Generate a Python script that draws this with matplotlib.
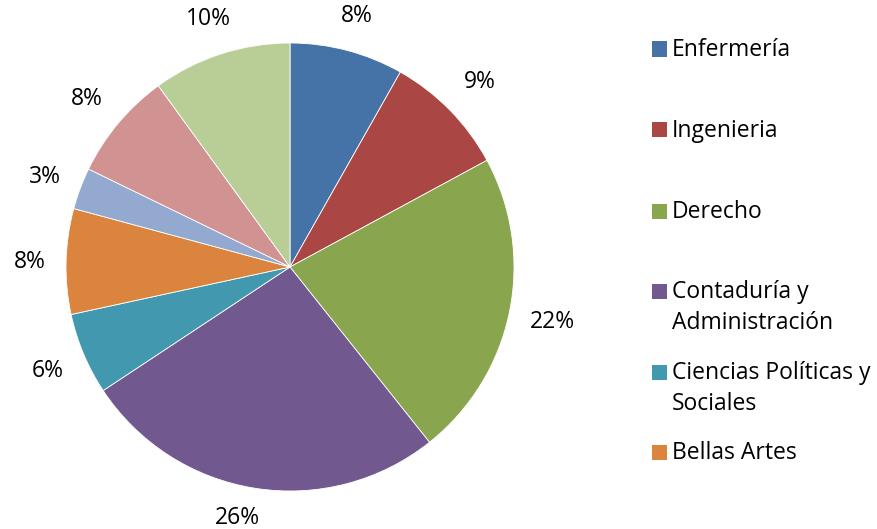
import matplotlib
matplotlib.use("Agg")
import numpy as np
import matplotlib.pyplot as plt
from matplotlib.patches import Rectangle

plt.rcParams['font.family'] = ['Open Sans', 'DejaVu Sans']

categories = ["Enfermería", "Ingenieria", "Derecho", "Contaduría y\nAdministración",
              "Ciencias Políticas y\nSociales", "Bellas Artes", "Otra 1", "Otra 2", "Otra 3"]
values = [8.2, 8.9, 22.2, 26.4, 5.9, 7.6, 3.0, 7.8, 10.0]
colors = ["#4572A7", "#AA4643", "#89A54E", "#71588F", "#4198AF",
          "#DB843D", "#93A9CF", "#D19392", "#B9CD96"]
legend_shown = 6
label_dist = [1.166, 1.188, 1.197, 1.137, 1.173, 1.161, 1.167, 1.183, 1.174]
label_shift = [0, 0, 0, -3, 0, 0, 0, 0, 0]  # degrees, Excel-like nudges

W, H = 877, 529
FS = 16.5
fig = plt.figure(figsize=(W / 100, H / 100), dpi=100)
cx, cy, R = 290, 262, 224
ax = fig.add_axes([(cx - R) / W, (cy - R) / H, 2 * R / W, 2 * R / H])
wedges, texts, autotexts = ax.pie(values, colors=colors, startangle=90, counterclock=False,
                                  radius=1, autopct='%.0f%%', pctdistance=1.17,
                                  wedgeprops=dict(edgecolor='white', linewidth=0.6),
                                  textprops=dict(fontsize=FS, color='black'))
for w, t, d, s in zip(wedges, autotexts, label_dist, label_shift):
    th = np.deg2rad((w.theta1 + w.theta2) / 2 + s)
    t.set_position((d * np.cos(th), d * np.sin(th) - 0.008))
    t.set_clip_on(False)
ax.set_xlim(-1, 1)
ax.set_ylim(-1, 1)
ax.set_aspect('equal')
ax.axis('off')

# Manual legend (Excel-like layout)
rows = [48, 129, 210, 290, 371, 451]
line_h = 31
for i in range(legend_shown):
    y = rows[i]
    fig.add_artist(Rectangle((652 / W, 1 - (y + 8.5) / H), 15 / W, 15 / H,
                             transform=fig.transFigure, facecolor=colors[i], edgecolor='none'))
    for j, line in enumerate(categories[i].split("\n")):
        fig.text(672 / W, 1 - (y + 2 + j * line_h) / H, line, fontsize=FS,
                 va='center', ha='left', color='black')

fig.savefig("out.png", dpi=100)
